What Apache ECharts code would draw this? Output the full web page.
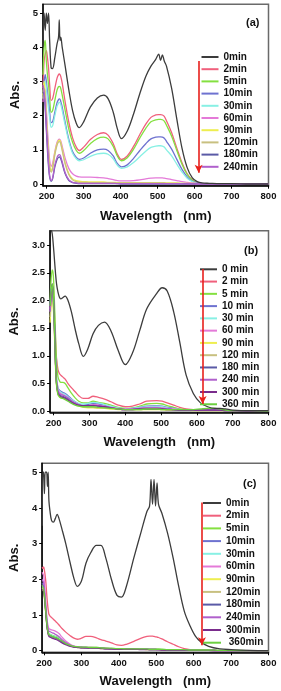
<!DOCTYPE html>
<html><head><meta charset="utf-8">
<script src="https://cdn.jsdelivr.net/npm/echarts@6/dist/echarts.min.js"></script>
<style>html,body{margin:0;padding:0;background:#fff}#c{width:281px;height:691px}</style>
</head><body><div id="c"></div>
<script>
// ---------- Panel (a) ----------
const WL_A = [190,193,196,199,202,205,208,212,216,222,228,232,234,236,238,242,250,260,270,280,288,300,318,337,354,366,380,391,402,418,435,452,468,482,495,503,508,513,518,524,538,552,566,580,594,607,620,640,670,700,750,800];
const A_LABELS = ["0min","2min","5min","10min","30min","60min","90min","120min","180min","240min"];
const A_0   = [4.0,5.0,4.5,5.0,4.7,5.0,4.2, 3.4,3.38,3.7,4.1,4.3,4.8,4.2,4.3,4.0, 3.45,2.75,2.15,1.78,1.65, 1.82,2.25,2.52,2.6,2.5,2.1,1.62, 1.33,1.55,2.05,2.65,3.15,3.45,3.65, 3.8,3.62,3.78,3.6,3.45, 2.8,1.9,1.05,0.48,0.18,0.07,0.03, 0.02,0.01,0.01,0,0];
const A_2   = [2.8,3.6,3.8,3.9,3.7,3.4,2.9, 2.45,2.5,2.8,3.1,3.2,3.22,3.2,3.15,2.95, 2.4,1.8,1.35,1.08,0.98, 1.08,1.3,1.45,1.5,1.43,1.18,0.88, 0.72,0.82,1.1,1.45,1.75,1.95,2.02, 2.03,2.03,2.02,1.98,1.85, 1.5,1.05,0.62,0.3,0.12,0.04,0.01, 0,0,0,0,0];
const A_5   = [3.2,4.0,4.2,3.6,3.2,2.9,2.5, 2.1,2.15,2.45,2.75,2.85,2.86,2.85,2.8,2.6, 2.15,1.6,1.22,0.98,0.9, 0.98,1.18,1.33,1.37,1.32,1.1,0.82, 0.68,0.77,1.02,1.35,1.63,1.82,1.88, 1.89,1.89,1.88,1.84,1.72, 1.4,0.98,0.58,0.28,0.11,0.04,0.01, 0,0,0,0,0];
const A_10  = [2.7,3.0,3.2,3.0,2.7,2.4,2.1, 1.8,1.82,2.1,2.38,2.47,2.49,2.48,2.42,2.25, 1.8,1.3,0.95,0.78,0.72, 0.76,0.9,1.0,1.02,0.98,0.82,0.6, 0.5,0.56,0.75,0.98,1.18,1.32,1.37, 1.38,1.38,1.37,1.34,1.25, 1.02,0.72,0.43,0.21,0.08,0.03,0.01, 0,0,0,0,0];
const A_30  = [2.5,2.9,3.0,2.8,2.5,2.2,1.95, 1.66,1.7,2.0,2.28,2.37,2.39,2.38,2.33,2.15, 1.72,1.24,0.9,0.74,0.68, 0.71,0.81,0.88,0.9,0.87,0.74,0.55, 0.46,0.5,0.63,0.8,0.96,1.07,1.11, 1.12,1.12,1.11,1.08,1.0, 0.82,0.58,0.35,0.17,0.07,0.02,0.01, 0,0,0,0,0];
const A_60  = [2.4,2.8,2.7,2.2,1.6,1.1,0.7, 0.52,0.6,0.95,1.22,1.3,1.31,1.3,1.26,1.1, 0.75,0.45,0.3,0.23,0.21, 0.2,0.2,0.19,0.18,0.16,0.13,0.1, 0.09,0.09,0.1,0.12,0.15,0.17,0.18, 0.18,0.18,0.18,0.17,0.16, 0.13,0.1,0.07,0.05,0.03,0.02,0.01, 0.01,0,0,0,0];
const A_90  = [2.6,3.0,2.6,2.0,1.4,0.9,0.55, 0.4,0.5,0.9,1.18,1.27,1.28,1.27,1.22,1.02, 0.62,0.3,0.15,0.1,0.08, 0.07,0.06,0.06,0.06,0.05,0.05,0.04, 0.04,0.04,0.04,0.04,0.04,0.04,0.04, 0.04,0.04,0.04,0.04,0.03, 0.03,0.03,0.02,0.02,0.02,0.01,0.01, 0.01,0,0,0,0];
const A_120 = [2.5,2.8,2.5,1.9,1.3,0.85,0.5, 0.35,0.45,0.85,1.14,1.23,1.24,1.23,1.18,0.98, 0.58,0.27,0.12,0.07,0.05, 0.05,0.04,0.04,0.04,0.04,0.03,0.03, 0.03,0.03,0.03,0.03,0.03,0.03,0.03, 0.03,0.03,0.03,0.03,0.02, 0.02,0.02,0.02,0.01,0.01,0.01,0.01, 0,0,0,0,0];
const A_180 = [2.7,2.6,2.2,1.6,1.0,0.5,0.2, 0.08,0.15,0.5,0.72,0.78,0.79,0.78,0.74,0.6, 0.3,0.1,0.04,0.02,0.01, 0.01,0.01,0.01,0.01,0.01,0.01,0.01, 0,0,0,0,0,0,0, 0,0,0,0,0, 0,0,0,0,0,0,0, 0,0,0,0,0];
const A_240 = [2.9,2.7,2.3,1.7,1.1,0.6,0.25, 0.1,0.18,0.55,0.78,0.85,0.86,0.85,0.8,0.65, 0.33,0.12,0.05,0.03,0.02, 0.02,0.02,0.02,0.02,0.02,0.02,0.01, 0.01,0.01,0.01,0.01,0.01,0.01,0.01, 0.01,0.01,0.01,0.01,0.01, 0.01,0.01,0.01,0,0,0,0, 0,0,0,0,0];

// ---------- Panel (b) ----------
const WL_B = [190,193,196,199,202,205,208,212,216,220,225,232,240,250,260,270,283,295,310,325,342,360,380,400,420,440,460,488,503,517,535,552,570,590,610,630,650,665,680,700,750,800];
const B_LABELS = ["0 min","2 min","5 min","10 min","30 min","60 min","90 min","120 min","180 min","240 min","300 min","360 min"];
const B_0   = [3.3,3.28,3.2,3.0,2.75,2.5,2.3, 2.15,2.06,2.03,2.05,2.08,2.0, 1.78,1.48,1.22,0.99,1.12, 1.4,1.55,1.61,1.45,1.1, 0.84,1.05,1.45,1.85,2.13, 2.23,2.17,1.8,1.25,0.65, 0.32,0.15,0.08,0.05,0.05, 0.04,0.02,0.01,0.01];
const B_2   = [1.8,2.1,2.3,2.2,1.8,1.3,0.95, 0.75,0.68,0.65,0.62,0.58,0.5, 0.42,0.35,0.28,0.23,0.23, 0.27,0.25,0.22,0.17,0.11, 0.08,0.09,0.13,0.18,0.19, 0.18,0.15,0.11,0.07,0.04, 0.03,0.02,0.02,0.02,0.02, 0.01,0.01,0,0];
const B_5   = [2.0,2.4,2.55,2.45,2.0,1.4,0.9, 0.62,0.55,0.52,0.52,0.5,0.42, 0.32,0.24,0.18,0.15,0.15, 0.18,0.16,0.14,0.11,0.07, 0.05,0.06,0.09,0.13,0.14, 0.13,0.1,0.07,0.04,0.03, 0.03,0.03,0.04,0.05,0.04, 0.02,0.01,0.01,0];
const B_10  = [1.9,2.2,2.3,2.1,1.6,1.0,0.6, 0.42,0.38,0.36,0.34,0.32,0.28, 0.22,0.17,0.13,0.11,0.12, 0.14,0.13,0.11,0.08,0.05, 0.04,0.05,0.07,0.09,0.1, 0.09,0.07,0.05,0.03,0.02, 0.02,0.02,0.02,0.03,0.02, 0.01,0.01,0,0];
const B_30  = [1.9,2.15,2.25,2.05,1.55,0.95,0.58, 0.4,0.36,0.34,0.32,0.3,0.26, 0.21,0.17,0.14,0.13,0.14, 0.16,0.15,0.12,0.09,0.06, 0.04,0.05,0.07,0.08,0.09, 0.08,0.06,0.04,0.03,0.02, 0.02,0.02,0.02,0.02,0.02, 0.01,0.01,0,0];
const B_60  = [1.85,2.1,2.2,2.0,1.5,0.9,0.55, 0.38,0.34,0.32,0.3,0.28,0.24, 0.19,0.15,0.12,0.1,0.1, 0.12,0.11,0.09,0.07,0.05, 0.04,0.04,0.05,0.07,0.07, 0.06,0.05,0.04,0.03,0.02, 0.02,0.02,0.02,0.02,0.02, 0.01,0.01,0,0];
const B_90  = [1.6,1.9,2.0,1.85,1.4,0.8,0.45, 0.3,0.26,0.24,0.23,0.22,0.2, 0.16,0.12,0.09,0.07,0.06, 0.06,0.05,0.05,0.04,0.03, 0.03,0.03,0.03,0.03,0.03, 0.03,0.02,0.02,0.02,0.02, 0.01,0.01,0.01,0.01,0.01, 0.01,0.01,0,0];
const B_120 = [1.7,2.0,2.1,1.9,1.45,0.85,0.48, 0.32,0.28,0.26,0.25,0.24,0.21, 0.17,0.13,0.1,0.08,0.07, 0.07,0.06,0.06,0.05,0.04, 0.03,0.03,0.03,0.04,0.04, 0.03,0.03,0.02,0.02,0.02, 0.02,0.01,0.01,0.01,0.01, 0.01,0.01,0,0];
const B_180 = [1.8,2.1,2.25,2.05,1.55,0.9,0.5, 0.34,0.3,0.28,0.27,0.25,0.22, 0.18,0.14,0.11,0.09,0.09, 0.1,0.09,0.08,0.06,0.04, 0.03,0.03,0.04,0.05,0.05, 0.04,0.04,0.03,0.02,0.02, 0.02,0.02,0.02,0.02,0.02, 0.01,0.01,0,0];
const B_240 = [1.8,2.05,2.2,2.0,1.5,0.9,0.52, 0.36,0.32,0.3,0.29,0.27,0.24, 0.19,0.15,0.12,0.1,0.1, 0.11,0.1,0.09,0.06,0.04, 0.03,0.04,0.05,0.06,0.06, 0.05,0.04,0.03,0.02,0.02, 0.02,0.02,0.02,0.02,0.02, 0.01,0.01,0,0];
const B_300 = [1.9,2.15,2.28,2.1,1.6,0.92,0.5, 0.32,0.28,0.26,0.25,0.23,0.2, 0.16,0.13,0.11,0.1,0.1, 0.1,0.09,0.08,0.06,0.04, 0.03,0.03,0.04,0.04,0.04, 0.04,0.03,0.03,0.02,0.02, 0.02,0.02,0.02,0.02,0.02, 0.01,0.01,0,0];
const B_360 = [1.9,2.15,2.3,2.1,1.55,0.88,0.48, 0.3,0.26,0.24,0.23,0.21,0.18, 0.14,0.11,0.09,0.08,0.08, 0.08,0.07,0.06,0.05,0.04, 0.03,0.03,0.03,0.04,0.04, 0.03,0.03,0.03,0.03,0.03, 0.03,0.04,0.05,0.05,0.04, 0.02,0.01,0.01,0];

// ---------- Panel (c) ----------
const WL_C = [195,197,199,201,203,205,207,209,211,213,216,220,225,230,235,240,248,258,270,280,289,300,312,325,340,352,365,380,395,407,420,440,460,475,482,486,490,494,498,502,506,515,530,545,560,575,590,605,620,640,670,700,750,800];
const C_LABELS = ["0min","2min","5min","10min","30min","60min","90min","120min","180min","240min","300min"," 360min"];
const C_0   = [3.5,5.0,5.0,4.4,5.0,5.0,5.0,4.6,5.0,4.2, 3.9,3.65,3.6,3.7,3.82,3.7, 3.4,3.0,2.45,2.02,1.8, 1.95,2.45,2.75,2.95,2.95, 2.6,2.0,1.55,1.5,1.8, 2.6,3.35,3.9,4.05,4.8, 4.1,4.8,4.05,4.7,4.1, 3.85,3.3,2.6,1.8,1.1, 0.7,0.4,0.24,0.12,0.05, 0.03,0.01,0];
const C_2   = [2.35,2.3,2.35,2.25,2.1,1.9,1.6,1.35,1.15,1.02, 0.97,0.93,0.88,0.83,0.78,0.72, 0.62,0.52,0.42,0.35,0.32, 0.35,0.4,0.4,0.36,0.31, 0.27,0.22,0.16,0.15,0.18, 0.26,0.35,0.4,0.41,0.41, 0.41,0.4,0.39,0.38,0.37, 0.33,0.25,0.18,0.11,0.06, 0.03,0.02,0.01,0.01,0, 0,0,0];
const C_5   = [1.85,1.8,1.75,1.6,1.35,1.1,0.85,0.66,0.53,0.48, 0.46,0.44,0.42,0.4,0.38,0.35, 0.29,0.22,0.16,0.12,0.11, 0.1,0.1,0.09,0.09,0.08, 0.07,0.06,0.06,0.05,0.05, 0.05,0.05,0.04,0.04,0.04, 0.04,0.04,0.04,0.04,0.04, 0.03,0.03,0.03,0.02,0.02, 0.02,0.02,0.01,0.01,0.01, 0,0,0];
const C_10  = [1.75,1.75,1.7,1.55,1.3,1.05,0.8,0.62,0.5,0.45, 0.43,0.41,0.39,0.37,0.35,0.32, 0.26,0.2,0.14,0.11,0.1, 0.09,0.08,0.08,0.07,0.07, 0.06,0.05,0.05,0.04,0.04, 0.04,0.04,0.04,0.03,0.03, 0.03,0.03,0.03,0.03,0.03, 0.03,0.02,0.02,0.02,0.02, 0.01,0.01,0.01,0.01,0, 0,0,0];
const C_30  = [1.8,1.78,1.72,1.58,1.33,1.08,0.83,0.64,0.52,0.47, 0.45,0.43,0.41,0.39,0.37,0.34, 0.28,0.21,0.15,0.12,0.1, 0.09,0.09,0.08,0.08,0.07, 0.06,0.06,0.05,0.05,0.05, 0.04,0.04,0.04,0.04,0.04, 0.04,0.04,0.04,0.03,0.03, 0.03,0.03,0.02,0.02,0.02, 0.02,0.01,0.01,0.01,0, 0,0,0];
const C_60  = [2.2,2.15,2.1,1.9,1.6,1.3,1.0,0.8,0.68,0.62, 0.6,0.58,0.57,0.55,0.52,0.48, 0.38,0.27,0.18,0.13,0.11, 0.1,0.09,0.09,0.08,0.07, 0.07,0.06,0.06,0.05,0.05, 0.05,0.04,0.04,0.04,0.04, 0.04,0.04,0.04,0.03,0.03, 0.03,0.03,0.02,0.02,0.02, 0.02,0.01,0.01,0.01,0, 0,0,0];
const C_90  = [1.7,1.7,1.65,1.5,1.25,1.0,0.77,0.6,0.48,0.43, 0.41,0.39,0.37,0.35,0.33,0.3, 0.25,0.19,0.14,0.11,0.09, 0.08,0.08,0.07,0.07,0.06, 0.06,0.05,0.05,0.04,0.04, 0.04,0.04,0.03,0.03,0.03, 0.03,0.03,0.03,0.03,0.03, 0.02,0.02,0.02,0.02,0.02, 0.01,0.01,0.01,0.01,0, 0,0,0];
const C_120 = [1.75,1.72,1.68,1.52,1.28,1.02,0.78,0.61,0.49,0.44, 0.42,0.4,0.38,0.36,0.34,0.31, 0.26,0.2,0.14,0.11,0.1, 0.09,0.08,0.08,0.07,0.07, 0.06,0.05,0.05,0.05,0.04, 0.04,0.04,0.04,0.03,0.03, 0.03,0.03,0.03,0.03,0.03, 0.03,0.02,0.02,0.02,0.02, 0.01,0.01,0.01,0.01,0, 0,0,0];
const C_180 = [1.9,1.85,1.8,1.62,1.35,1.08,0.82,0.62,0.5,0.44, 0.42,0.4,0.38,0.36,0.34,0.31, 0.25,0.19,0.14,0.11,0.1, 0.09,0.08,0.08,0.07,0.07, 0.06,0.05,0.05,0.05,0.04, 0.04,0.04,0.04,0.03,0.03, 0.03,0.03,0.03,0.03,0.03, 0.03,0.02,0.02,0.02,0.02, 0.01,0.01,0.01,0.01,0, 0,0,0];
const C_240 = [2.0,1.95,1.9,1.72,1.45,1.18,0.92,0.72,0.6,0.55, 0.53,0.51,0.49,0.46,0.43,0.39, 0.31,0.23,0.16,0.12,0.1, 0.09,0.09,0.08,0.08,0.07, 0.06,0.06,0.05,0.05,0.05, 0.04,0.04,0.04,0.04,0.04, 0.04,0.04,0.04,0.03,0.03, 0.03,0.03,0.02,0.02,0.02, 0.02,0.01,0.01,0.01,0, 0,0,0];
const C_300 = [1.7,1.7,1.65,1.5,1.25,1.0,0.76,0.58,0.46,0.4, 0.38,0.36,0.34,0.32,0.3,0.27, 0.22,0.17,0.12,0.1,0.09, 0.08,0.08,0.07,0.07,0.06, 0.05,0.05,0.04,0.04,0.04, 0.04,0.03,0.03,0.03,0.03, 0.03,0.03,0.03,0.03,0.03, 0.02,0.02,0.02,0.02,0.02, 0.01,0.01,0.01,0.01,0, 0,0,0];
const C_360 = [1.8,1.78,1.72,1.56,1.3,1.04,0.8,0.62,0.5,0.45, 0.43,0.41,0.39,0.37,0.35,0.32, 0.27,0.2,0.15,0.12,0.11, 0.1,0.1,0.09,0.09,0.08, 0.07,0.07,0.06,0.06,0.05, 0.05,0.05,0.05,0.04,0.04, 0.04,0.04,0.04,0.04,0.04, 0.04,0.03,0.03,0.03,0.03, 0.02,0.02,0.02,0.02,0.01, 0.01,0,0];

const X_TICKS = [200,300,400,500,600,700,800];
const Y_TICKS_A = [0,1,2,3,4,5];
const Y_TICKS_B = [0,0.5,1.0,1.5,2.0,2.5,3.0];
const Y_TICKS_C = [0,1,2,3,4,5];

const COLORS = {
  "0":"#3c3c3c","2":"#f0607c","5":"#84e040","10":"#6e72d0","30":"#88f0e4","60":"#e47ad8",
  "90":"#eeee50","120":"#c8c080","180":"#5a5aa6","240":"#b060cc","300":"#7a2c8c","360":"#6cd040"
};
const FONT = "'Liberation Sans', Arial, sans-serif";

const panels = [
  {id:"a", wl:WL_A, labels:A_LABELS, vals:[A_0,A_2,A_5,A_10,A_30,A_60,A_90,A_120,A_180,A_240],
   keys:["0","2","5","10","30","60","90","120","180","240"],
   grid:{left:43, top:4.3, width:225.5, height:181.4}, x:[190,800], y:[-0.05,5.26], yt:Y_TICKS_A, yfmt:v=>String(v),
   legend:{left:201.5, top:51, w:17, gap:0.2}, tag:{left:246,top:17}, arrow:[611,3.6,0.33], yNameGap:19, xNameGap:24},
  {id:"b", wl:WL_B, labels:B_LABELS, vals:[B_0,B_2,B_5,B_10,B_30,B_60,B_90,B_120,B_180,B_240,B_300,B_360],
   keys:["0","2","5","10","30","60","90","120","180","240","300","360"],
   grid:{left:43.3, top:230.7, width:225.2, height:181.6}, x:[190,800], y:[-0.02,3.26], yt:Y_TICKS_B, yfmt:v=>v.toFixed(1),
   legend:{left:200, top:263.3, w:17, gap:0.27}, tag:{left:244,top:245}, arrow:[616,2.57,0.13], yNameGap:24, xNameGap:24},
  {id:"c", wl:WL_C, labels:C_LABELS, vals:[C_0,C_2,C_5,C_10,C_30,C_60,C_90,C_120,C_180,C_240,C_300,C_360],
   keys:["0","2","5","10","30","60","90","120","180","240","300","360"],
   grid:{left:36, top:463.3, width:232.5, height:189}, x:[195,800], y:[-0.045,5.25], yt:Y_TICKS_C, yfmt:v=>String(v),
   legend:{left:203, top:497, w:18, gap:0.7}, tag:{left:243,top:478}, arrow:[622,4.15,0.15], yNameGap:18, xNameGap:23}
];

const grid=[], xAxis=[], yAxis=[], legend=[], series=[], title=[];
panels.forEach((p,pi)=>{
  grid.push({left:p.grid.left, top:p.grid.top, width:p.grid.width, height:p.grid.height, show:true, borderColor:'#6a6a6a', borderWidth:1.5, containLabel:false});
  xAxis.push({type:'value', gridIndex:pi, min:p.x[0], max:p.x[1],
    name:'Wavelength   (nm)', nameLocation:'middle', nameGap:p.xNameGap,
    nameTextStyle:{fontFamily:FONT, fontWeight:'bold', fontSize:13, color:'#111'},
    axisLine:{show:true, onZero:false, lineStyle:{color:'#000', width:1.5}},
    axisTick:{show:true, inside:false, length:3, customValues:X_TICKS, lineStyle:{color:'#000',width:1}},
    axisLabel:{customValues:X_TICKS, margin:6, fontFamily:FONT, fontWeight:'bold', fontSize:9.5, color:'#111'},
    splitLine:{show:false}});
  yAxis.push({type:'value', gridIndex:pi, min:p.y[0], max:p.y[1],
    name:'Abs.', nameLocation:'middle', nameGap:p.yNameGap, nameRotate:90,
    nameTextStyle:{fontFamily:FONT, fontWeight:'bold', fontSize:13, color:'#111'},
    axisLine:{show:true, onZero:false, lineStyle:{color:'#000', width:1.5}},
    axisTick:{show:true, inside:false, length:3, customValues:p.yt, lineStyle:{color:'#000',width:1}},
    axisLabel:{customValues:p.yt, formatter:p.yfmt, margin:5, fontFamily:FONT, fontWeight:'bold', fontSize:9.5, color:'#111'},
    splitLine:{show:false}});
  const names=[];
  p.vals.forEach((arr,si)=>{
    const nm = p.id+'|'+p.labels[si];
    names.push(nm);
    const s = {type:'line', name:nm, xAxisIndex:pi, yAxisIndex:pi, showSymbol:false, symbol:'none',
      smooth:0.35, clip:true, z: si===0?3:2,
      color:COLORS[p.keys[si]],
      lineStyle:{color:COLORS[p.keys[si]], width:1.3},
      data:p.wl.map((w,i)=>[w,arr[i]])};
    if(si===0){
      s.markLine={silent:true, symbol:['none','arrow'], symbolSize:[6,8], label:{show:false},
        lineStyle:{color:'#e8201c', width:1.6, type:'solid'},
        data:[[{coord:[p.arrow[0],p.arrow[1]]},{coord:[p.arrow[0],p.arrow[2]]}]]};
    }
    series.push(s);
  });
  legend.push({orient:'vertical', left:p.legend.left, top:p.legend.top, itemWidth:p.legend.w, itemHeight:2,
    itemGap:p.legend.gap, icon:'rect', selectedMode:false, padding:0, data:names,
    formatter:n=>n.split('|')[1],
    textStyle:{fontFamily:FONT, fontWeight:'bold', fontSize:10, color:'#111', lineHeight:12}});
  title.push({text:'('+p.id+')', left:p.tag.left, top:p.tag.top, padding:0,
    textStyle:{fontFamily:FONT, fontWeight:'bold', fontSize:11, color:'#111'}});
});

const chart = echarts.init(document.getElementById('c'), null, {renderer:'canvas'});
chart.setOption({animation:false, backgroundColor:'#fff', grid, xAxis, yAxis, legend, series, title});
</script></body></html>
